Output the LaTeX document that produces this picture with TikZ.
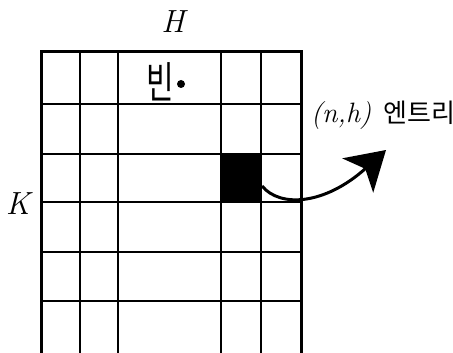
\documentclass[tikz,border=0pt]{standalone}
\usepackage{fontspec}
\newfontfamily\kor{Noto Sans CJK KR}
\usetikzlibrary{arrows.meta}

\tikzset{
  gridline/.style={line width=1pt},
  frameline/.style={line width=1.5pt},
  bigletter/.style={font=\fontsize{16}{18}\selectfont\itshape},
}

\begin{document}
\begin{tikzpicture}[x=0.5pt,y=-0.5pt,line width=1pt]
  \useasboundingbox (0,0) rectangle (453,352);
  % the marked entry
  \node (entry) [fill=black, inner sep=0pt, minimum width=20pt, minimum height=24pt] at (241,178) {};
  % grid
  \foreach \x in {80,118,221,261}
    \draw[gridline] (\x,52) -- (\x,360);
  \foreach \y in {104,154,202,252,301}
    \draw[gridline] (41,\y) -- (301,\y);
  \draw[frameline] (41,360) -- (41,52) -- (301,52) -- (301,360);
  % labels
  \node[bigletter] (H) at (173,22) {H};
  \node[bigletter] (K) at (18,204) {K};
  \node[font=\fontsize{15}{17}\selectfont\kor, yscale=1.45] (bin) at (160,82) {빈};
  \node (dot) [circle, fill=black, inner sep=0pt, minimum size=4pt] at (181,84) {};
  \node[anchor=west, inner sep=0pt] (label) at (310,115)
    {\fontsize{14}{16}\selectfont\itshape (n,h)\hspace{6pt}{\upshape\kor\fontsize{13}{15}\selectfont 엔트리}};
  % arrow
  \coordinate (tip) at (386,150);
  \draw[line width=1.5pt, -{Stealth[length=19pt,width=23pt,inset=5pt]}]
    ([yshift=-4pt]entry.east) .. controls (280,208) and (325,205) .. (tip);
\end{tikzpicture}
\end{document}
